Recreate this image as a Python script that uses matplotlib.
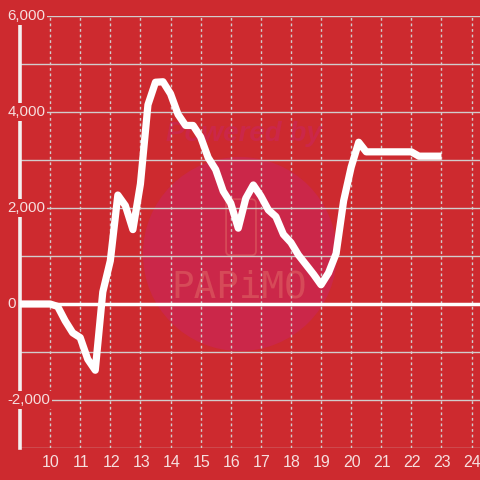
import matplotlib
matplotlib.use("Agg")
import matplotlib.pyplot as plt
from matplotlib.patches import Ellipse, FancyBboxPatch

# hour of day (15 min steps) and value
hours = [9.0, 9.25, 9.5, 9.75, 10.0, 10.25, 10.5, 10.75, 11.0, 11.25, 11.5, 11.75,
         12.0, 12.25, 12.5, 12.75, 13.0, 13.25, 13.5, 13.75, 14.0, 14.25, 14.5, 14.75,
         15.0, 15.25, 15.5, 15.75, 16.0, 16.25, 16.5, 16.75, 17.0, 17.25, 17.5, 17.75,
         18.0, 18.25, 18.5, 18.75, 19.0, 19.25, 19.5, 19.75, 20.0, 20.25, 20.5, 20.75,
         21.0, 21.25, 21.5, 21.75, 22.0, 22.25, 22.5, 22.75, 23.0]
values = [0, 0, 0, 0, 0, -50, -350, -600, -700, -1150, -1380, 250,
          900, 2270, 2050, 1550, 2500, 4150, 4620, 4630, 4380, 3950, 3720, 3720,
          3480, 3050, 2800, 2350, 2100, 1580, 2200, 2480, 2250, 1960, 1820, 1450,
          1280, 1020, 820, 620, 400, 650, 1050, 2150, 2850, 3370, 3170, 3170,
          3170, 3170, 3170, 3170, 3170, 3080, 3080, 3080, 3080]

x_ticks = list(range(10, 25))
y_labels = [6000, 4000, 2000, 0, -2000]

BG = "#cd2a2f"
TXT = "#f6dede"
GRID = "#d2cccc"
WM = "#cb2749"

plt.rcParams["font.family"] = ["Liberation Sans", "DejaVu Sans"]

fig = plt.figure(figsize=(4.8, 4.8), dpi=100, facecolor=BG)
ax = fig.add_axes([20 / 480, 32 / 480, 460 / 480, 432 / 480])
ax.set_facecolor(BG)
ax.set_xlim(9, 24.28)
ax.set_ylim(-3000, 6000)

# watermark
ax.add_patch(Ellipse((0.478, 0.449), 194 / 460, 194 / 432, transform=ax.transAxes,
                     fc=WM, ec="none", zorder=0))
ax.text(0.487, 0.728, "Powered by", transform=ax.transAxes, ha="center", va="center",
        fontsize=20, fontweight="bold", style="italic", color=WM, zorder=0.5)
ax.text(0.476, 0.372, "PAPiMO", transform=ax.transAxes, ha="center", va="center",
        fontsize=27, family="DejaVu Sans Mono", color="#d64a58", zorder=0.5)
ax.add_patch(FancyBboxPatch((0.448, 0.446), 0.065, 0.13, transform=ax.transAxes,
                            boxstyle="round,pad=0,rounding_size=0.01",
                            fc="none", ec="#d64a58", lw=1.3, zorder=0.5))

# grid
for v in range(-3000, 6001, 1000):
    if v == 0:
        continue
    ax.axhline(v, color=GRID, lw=1, zorder=1)
for h in x_ticks:
    ax.axvline(h, color=GRID, lw=1, ls=(0, (2, 2)), zorder=1)
ax.axhline(0, color="white", lw=2.5, zorder=1.5)

ax.plot(hours, values, color="white", lw=5.2, solid_joinstyle="round",
        solid_capstyle="butt", zorder=3)

for s in ["top", "right", "bottom"]:
    ax.spines[s].set_visible(False)
ax.spines["left"].set_color("#f4f0f0")
ax.spines["left"].set_linewidth(2.6)
ax.spines["left"].set_zorder(2.5)

ax.set_xticks([])
ax.set_yticks([])

for v in y_labels:
    ax.text(8.58, v, f"{v:,}", ha="left", va="center", fontsize=10.8, color=TXT,
            clip_on=False, zorder=4,
            bbox=dict(fc=BG, ec="none", pad=1.5))
for h in x_ticks:
    ax.text(h + 0.03, -3150, str(h), ha="center", va="top", fontsize=11.5, color=TXT,
            clip_on=False)

fig.savefig("out.png", dpi=100, facecolor=BG)
